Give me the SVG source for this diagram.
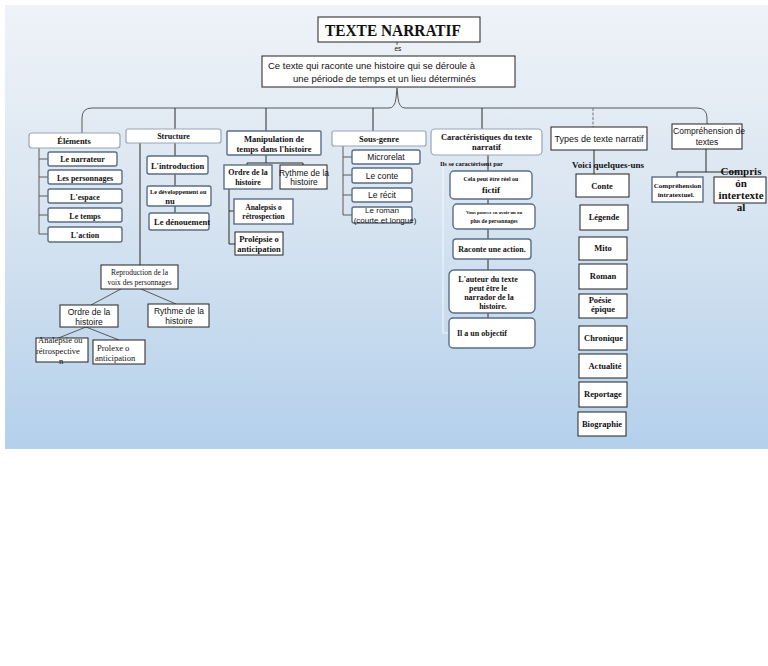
<svg xmlns="http://www.w3.org/2000/svg" width="768" height="666" viewBox="0 0 768 666">
<defs>
<linearGradient id="bg" x1="0" y1="0" x2="0" y2="1">
<stop offset="0" stop-color="#eff3f8"/>
<stop offset="0.45" stop-color="#d9e5f1"/>
<stop offset="1" stop-color="#b4d0eb"/>
</linearGradient>
<style>
.rb{fill:#fff;stroke:#98a6b8;stroke-width:1.2}
.bb{fill:#fff;stroke:#5b6e86;stroke-width:1.4}
.kb{fill:#fff;stroke:#222;stroke-width:1}
.ln{fill:none;stroke:#2b2b2b;stroke-width:1}
.lg{fill:none;stroke:#5a5a5a;stroke-width:1}
.lw{fill:none;stroke:#eef3f9;stroke-width:1.2}
.sb{font-family:"Liberation Serif",serif;font-weight:bold;fill:#111}
.sr{font-family:"Liberation Serif",serif;fill:#111}
.s{font-family:"Liberation Sans",Arial,sans-serif;fill:#111}
.c{text-anchor:middle}
</style>
</defs>
<rect x="0" y="0" width="768" height="666" fill="#fff"/>
<rect x="5" y="5" width="763" height="444" fill="url(#bg)"/>

<g id="connectors">
<path class="lg" d="M82,133 L82,118 Q82,108 92,108 L389,108 Q395,108 396,98 L397,88 L398,98 Q399,108 405,108 L697,108 Q707,108 707,118 L707,124"/>
<line class="ln" x1="175" y1="108" x2="175" y2="129"/>
<line class="ln" x1="266" y1="108" x2="266" y2="131"/>
<line class="ln" x1="373" y1="108" x2="373" y2="131"/>
<line class="ln" x1="482" y1="108" x2="482" y2="129"/>
<line x1="593" y1="108" x2="593" y2="127" stroke="#777" stroke-width="1" stroke-dasharray="3,1.5"/>
<line class="lg" x1="397" y1="42" x2="397" y2="45"/>
<path class="lg" d="M39,147 L39,234 M39,159 L48,159 M39,177 L48,177 M39,196 L48,196 M39,215 L48,215 M39,234 L48,234"/>
<line class="ln" x1="175" y1="143" x2="175" y2="213"/>
<line class="ln" x1="140" y1="143" x2="140" y2="265"/>
<path class="lg" d="M121,289 L91,305 M141,289 L176,304 M86,327 L56,339 M86,327 L119,340"/>
<path class="ln" d="M266,155 L266,163 M247,163 L303,163 M247,163 L247,166 M303,163 L303,166"/>
<path class="ln" d="M229,189 L229,244 M229,211 L234,211 M229,244 L235,244"/>
<path class="lg" d="M343,146 L343,215 M343,157 L352,157 M343,175 L352,175 M343,195 L352,195 M343,215 L352,215"/>
<path class="lw" d="M443,162 L443,333 L449,333"/>
<line class="ln" x1="488" y1="155" x2="488" y2="318"/>
<line class="ln" x1="594" y1="150" x2="594" y2="174"/>
<path class="ln" d="M706,149 L706,172 M677,172 L738,172 M677,172 L677,177"/>
</g>

<g id="n-titre"><rect class="kb" x="318" y="17" width="162" height="25" stroke-width="1.4"/><text class="sb" x="325" y="36" font-size="17" textLength="136" lengthAdjust="spacingAndGlyphs">TEXTE NARRATIF</text></g>
<text class="s" x="394.5" y="51" font-size="6.5">es</text>
<g id="n-def"><rect class="kb" x="262" y="56" width="253" height="31"/><text class="s" x="268" y="69" font-size="9.5">Ce texte qui raconte une histoire qui se déroule à</text><text class="s" x="293" y="82" font-size="9.5">une période de temps et un lieu déterminés</text></g>

<g id="n-elements"><rect class="rb" x="29" y="133" width="91" height="15" rx="3"/><text class="sb c" x="74" y="143.5" font-size="8.5">Éléments</text></g>
<g id="n-narrateur"><rect class="bb" x="48" y="152" width="69" height="14" rx="2"/><text class="sb c" x="82.5" y="162" font-size="8">Le narrateur</text></g>
<g id="n-personnages"><rect class="bb" x="48" y="170" width="74" height="14" rx="2"/><text class="sb c" x="85" y="180.5" font-size="8">Les personnages</text></g>
<g id="n-espace"><rect class="bb" x="48" y="189" width="74" height="14" rx="2"/><text class="sb c" x="85" y="199.5" font-size="8">L'espace</text></g>
<g id="n-temps"><rect class="bb" x="48" y="208" width="74" height="14" rx="2"/><text class="sb c" x="85" y="218.5" font-size="8">Le temps</text></g>
<g id="n-action"><rect class="bb" x="48" y="227" width="74" height="15" rx="2"/><text class="sb c" x="85" y="237.5" font-size="8">L'action</text></g>

<g id="n-structure"><rect class="rb" x="126" y="129" width="95" height="14" rx="2"/><text class="sb c" x="173.5" y="139" font-size="8">Structure</text></g>
<g id="n-intro"><rect class="bb" x="147" y="156" width="61" height="18" rx="2"/><text class="sb c" x="177.5" y="168.5" font-size="8.5">L'introduction</text></g>
<g id="n-dev"><rect class="bb" x="147" y="186" width="64" height="20" rx="2"/><text class="sb" x="150" y="194" font-size="6.2">Le développement ou</text><text class="sb c" x="170" y="204" font-size="8.5">nu</text></g>
<g id="n-denouement"><rect class="bb" x="149" y="213" width="60" height="17" rx="2"/><text class="sb c" x="182" y="225" font-size="8.5">Le dénouement</text></g>

<g id="n-reproduction"><rect class="kb" x="101" y="265" width="77" height="24"/><text class="sr c" x="139.5" y="275" font-size="7.5">Reproduction de la</text><text class="sr c" x="139.5" y="285" font-size="7.5">voix des personnages</text></g>
<g id="n-ordre2"><rect class="kb" x="60" y="305" width="58" height="22"/><text class="s c" x="89" y="315" font-size="8.5">Ordre de la</text><text class="s c" x="89" y="325" font-size="8.5">histoire</text></g>
<g id="n-rythme2"><rect class="kb" x="148" y="304" width="61" height="23"/><text class="s c" x="179" y="314" font-size="8.5">Rythme de la</text><text class="s c" x="179" y="324" font-size="8.5">histoire</text></g>
<g id="n-analepsie2"><rect class="kb" x="36" y="338" width="52" height="24"/><text class="sr" x="38" y="343" font-size="8.5">Analepsie ou</text><text class="sr" x="36" y="354" font-size="8.5">rétrospective</text><text class="sr" x="59" y="364" font-size="8.5">n</text></g>
<g id="n-prolexe"><rect class="kb" x="93" y="340" width="52" height="24"/><text class="sr" x="97" y="351" font-size="8.5">Prolexe o</text><text class="sr" x="95" y="361" font-size="8.5">anticipation</text></g>

<g id="n-manip"><rect class="bb" x="227" y="131" width="94" height="24" rx="1"/><text class="sb c" x="274" y="142" font-size="8.5">Manipulation de</text><text class="sb c" x="274" y="152" font-size="8.5">temps dans l'histoire</text></g>
<g id="n-ordre1"><rect class="bb" x="224" y="165" width="48" height="24"/><text class="sb c" x="248" y="175" font-size="8">Ordre de la</text><text class="sb c" x="248" y="185" font-size="8">histoire</text></g>
<g id="n-rythme1"><rect class="kb" x="280" y="165" width="47" height="24" stroke-width="1.3"/><text class="s c" x="304" y="175.5" font-size="8.5">Rythme de la</text><text class="s c" x="304" y="185" font-size="8.5">histoire</text></g>
<g id="n-analepsis1"><rect class="bb" x="234" y="199" width="59" height="25"/><text class="sb c" x="263.5" y="209.5" font-size="7.5">Analepsis o</text><text class="sb c" x="263.5" y="219" font-size="7.5">rétrospection</text></g>
<g id="n-prolepsie1"><rect class="kb" x="235" y="232" width="48" height="23" stroke-width="1.3"/><text class="sb c" x="259" y="242" font-size="8.5">Prolépsie o</text><text class="sb c" x="259" y="252" font-size="8.5">anticipation</text></g>

<g id="n-sousgenre"><rect class="rb" x="332" y="131" width="94" height="15" rx="2"/><text class="sb c" x="379" y="141.5" font-size="8.5">Sous-genre</text></g>
<g id="n-microrelat"><rect class="bb" x="352" y="150" width="68" height="14" rx="2"/><text class="s c" x="386" y="160" font-size="8.5">Microrelat</text></g>
<g id="n-conte1"><rect class="bb" x="352" y="168" width="60" height="15" rx="2"/><text class="s c" x="382" y="178.5" font-size="8.5">Le conte</text></g>
<g id="n-recit"><rect class="bb" x="352" y="188" width="60" height="14" rx="2"/><text class="s c" x="382" y="198" font-size="8.5">Le récit</text></g>
<g id="n-roman1"><rect class="bb" x="352" y="207" width="60" height="16" rx="2"/><text class="s c" x="382" y="213" font-size="8">Le roman</text><text class="s c" x="385" y="222.5" font-size="8">(courte et longue)</text></g>

<g id="n-caract"><rect class="rb" x="431" y="129" width="111" height="26" rx="4"/><text class="sb c" x="486.5" y="140" font-size="8.5">Caractéristiques du texte</text><text class="sb c" x="486.5" y="150" font-size="8.5">narratif</text></g>
<text class="sb" x="440" y="166" font-size="6.5">Ils se caractérisent par</text>
<g id="n-reel"><rect class="bb" x="450" y="171" width="82" height="28" rx="4"/><text class="sb c" x="491" y="181" font-size="6">Cela peut être réel ou</text><text class="sb c" x="491" y="193" font-size="9">fictif</text></g>
<g id="n-vous"><rect class="bb" x="453" y="204" width="82" height="25" rx="4"/><text class="sb c" x="494" y="214" font-size="4.8">Vous pouvez en avoir un ou</text><text class="sb c" x="494" y="223" font-size="5.5">plus de personnages</text></g>
<g id="n-raconte"><rect class="bb" x="453" y="239" width="78" height="20" rx="3"/><text class="sb c" x="492" y="252" font-size="8">Raconte une action.</text></g>
<g id="n-auteur"><rect class="bb" x="449" y="270" width="86" height="43" rx="5"/><text class="sb c" x="488" y="282" font-size="8">L'auteur du texte</text><text class="sb c" x="488" y="291" font-size="8">peut être le</text><text class="sb c" x="489" y="300" font-size="8">narrador de la</text><text class="sb c" x="493" y="309" font-size="8">histoire.</text></g>
<g id="n-objectif"><rect class="bb" x="449" y="318" width="86" height="30" rx="4"/><text class="sb" x="457" y="336" font-size="8">Il a un objectif</text></g>

<g id="n-types"><rect class="kb" x="551" y="127" width="96" height="23" stroke="#3f4b5c"/><text class="s c" x="599" y="141.5" font-size="9">Types de texte narratif</text></g>
<text class="sb" x="572" y="168" font-size="9">Voici quelques-uns</text>
<g id="n-conte2"><rect class="kb" x="576" y="174" width="53" height="23" stroke="#3f4b5c"/><text class="sb c" x="602" y="189" font-size="8.5">Conte</text></g>
<g id="n-legende"><rect class="kb" x="580" y="205" width="48" height="25" stroke="#3f4b5c"/><text class="sb c" x="604" y="220" font-size="8.5">Légende</text></g>
<g id="n-mito"><rect class="kb" x="579" y="237" width="48" height="23" stroke="#3f4b5c"/><text class="sb c" x="603" y="251" font-size="8.5">Mito</text></g>
<g id="n-roman2"><rect class="kb" x="579" y="264" width="48" height="25" stroke="#3f4b5c"/><text class="sb c" x="603" y="279" font-size="8.5">Roman</text></g>
<g id="n-poesie"><rect class="kb" x="579" y="294" width="48" height="24" stroke="#3f4b5c"/><text class="sb c" x="600" y="302.5" font-size="8.5">Poésie</text><text class="sb c" x="603" y="311.5" font-size="8.5">épique</text></g>
<g id="n-chronique"><rect class="kb" x="579" y="326" width="48" height="24" stroke="#3f4b5c"/><text class="sb" x="584" y="341" font-size="8.5">Chronique</text></g>
<g id="n-actualite"><rect class="kb" x="579" y="354" width="48" height="24" stroke="#3f4b5c"/><text class="sb c" x="605" y="368.5" font-size="8.5">Actualité</text></g>
<g id="n-reportage"><rect class="kb" x="579" y="382" width="48" height="25" stroke="#3f4b5c"/><text class="sb c" x="603" y="397" font-size="8.5">Reportage</text></g>
<g id="n-biographie"><rect class="kb" x="578" y="412" width="48" height="24" stroke="#3f4b5c"/><text class="sb c" x="602" y="426.5" font-size="8.5">Biographie</text></g>

<g id="n-comprehension"><rect class="kb" x="672" y="124" width="70" height="25"/><text class="s c" x="709" y="134" font-size="8.5">Compréhension de</text><text class="s c" x="707" y="144.5" font-size="8.5">textes</text></g>
<g id="n-intra"><rect class="bb" x="652" y="177" width="51" height="25"/><text class="sb c" x="677.5" y="188" font-size="7">Compréhension</text><text class="sb c" x="676" y="197" font-size="7">intratextuel.</text></g>
<g id="n-inter"><rect class="kb" x="714" y="177" width="52" height="26" stroke="#3f4b5c"/><text class="sb c" x="741" y="175" font-size="11">Compris</text><text class="sb c" x="741" y="187" font-size="11">ón</text><text class="sb c" x="741" y="199" font-size="11">intertexte</text><text class="sb c" x="741" y="211" font-size="11">al</text></g>
</svg>
